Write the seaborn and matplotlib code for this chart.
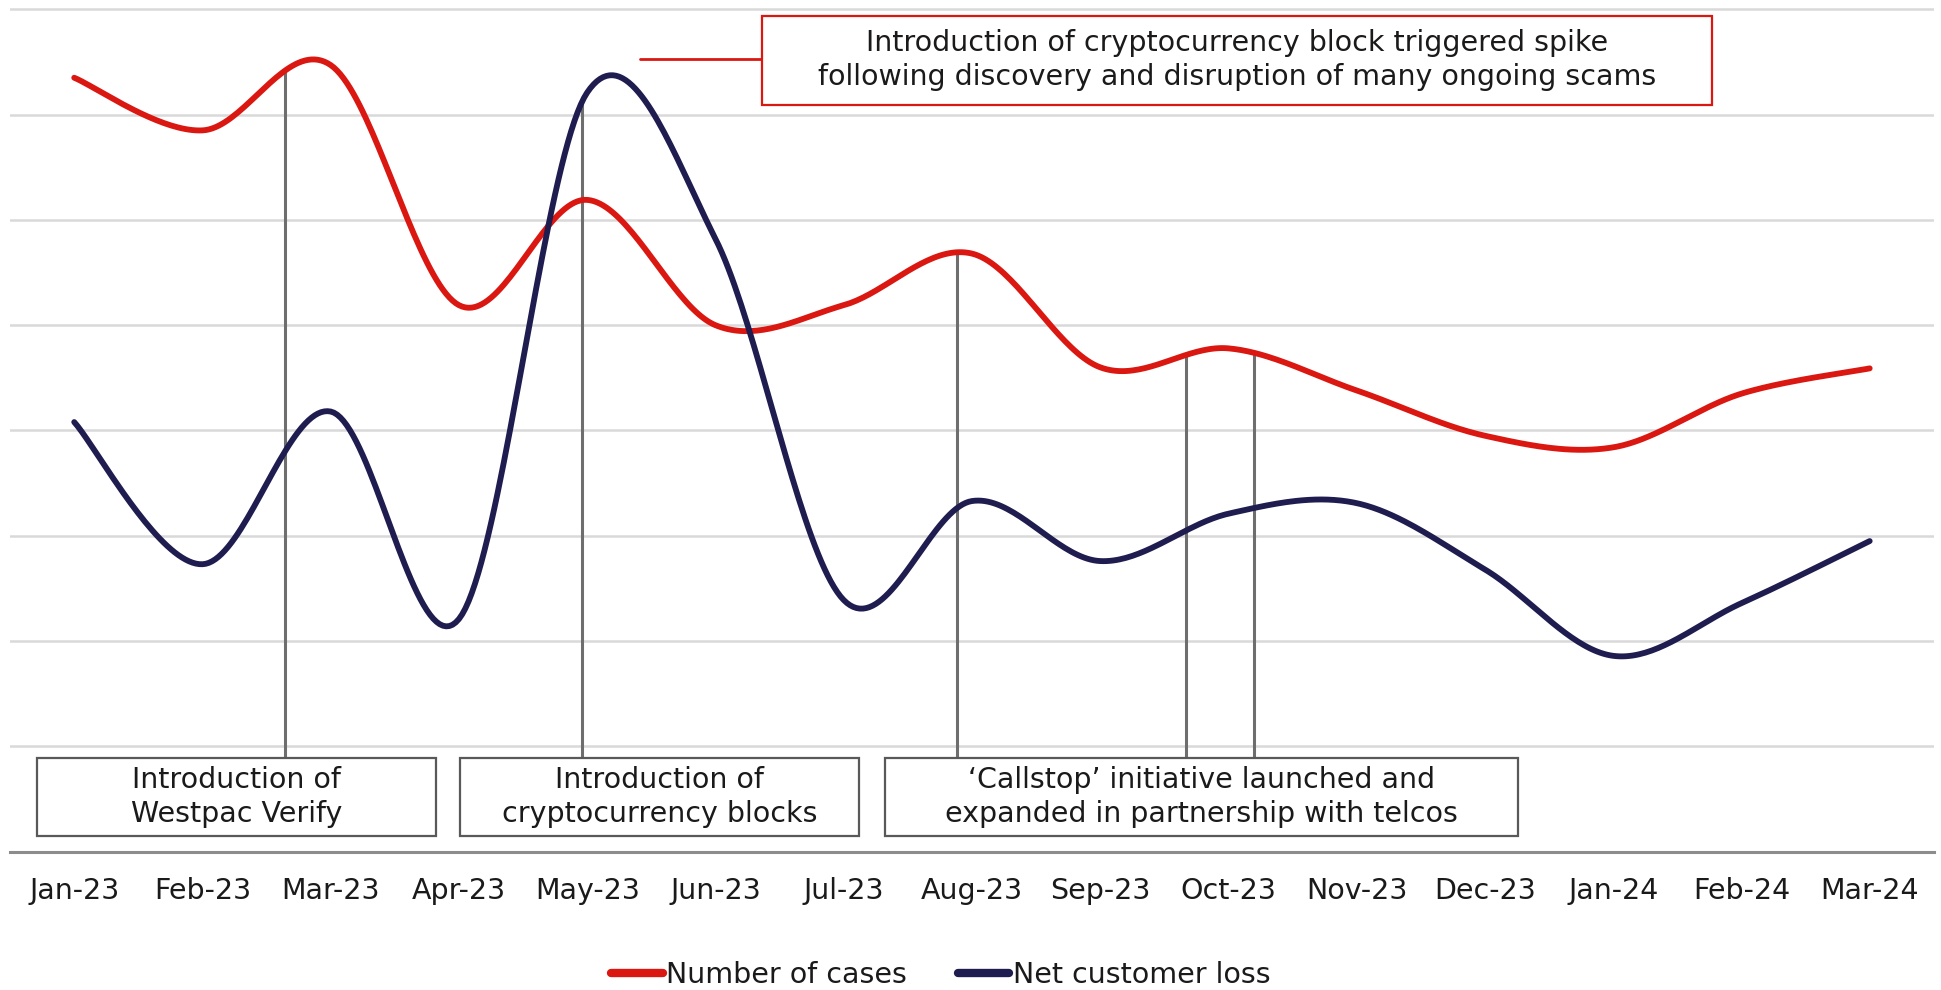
import numpy as np
import pandas as pd
import matplotlib
matplotlib.use("Agg")
import matplotlib.pyplot as plt
from matplotlib.patches import Rectangle
from matplotlib.lines import Line2D
import seaborn as sns

# ---- data -------------------------------------------------------------
months = ["Jan-23", "Feb-23", "Mar-23", "Apr-23", "May-23", "Jun-23", "Jul-23",
          "Aug-23", "Sep-23", "Oct-23", "Nov-23", "Dec-23", "Jan-24", "Feb-24", "Mar-24"]
cases = [7.35, 6.85, 7.47, 5.19, 6.19, 5.00, 5.19, 5.68, 4.60, 4.78, 4.38, 3.95, 3.84, 4.35, 4.59]
net_loss = [4.08, 2.73, 4.18, 2.21, 7.21, 5.82, 2.39, 3.33, 2.76, 3.21, 3.31, 2.68, 1.86, 2.36, 2.95]

series_names = ["Number of cases", "Net customer loss"]
series_colors = ["#DA1710", "#1F1C4F"]

# event markers: (x position in month units, series the marker rises to)
event_x = [1.64, 3.96, 6.88, 8.67, 9.20]
event_series = [0, 1, 0, 0, 0]
event_boxes = [
    ("Introduction of\nWestpac Verify", -0.29, 2.82),
    ("Introduction of\ncryptocurrency blocks", 3.01, 6.12),
    ("\u2018Callstop\u2019 initiative launched and\nexpanded in partnership with telcos", 6.32, 11.26),
]
spike_note = ("Introduction of cryptocurrency block triggered spike\n"
              "following discovery and disruption of many ongoing scams")

# ---- style ------------------------------------------------------------
sns.set_theme(style="white")
plt.rcParams["font.family"] = ["DejaVu Sans"]
TEXT = "#1a1a1a"
GRID = "#d9d9d9"
EVENT_GREY = "#6e6e6e"


def smooth(values, steps=40):
    """Catmull-Rom (Bezier-style) smoothing through every monthly point."""
    p = np.column_stack([np.arange(len(values), dtype=float), np.asarray(values, float)])
    ext = np.vstack([p[0], p, p[-1]])
    out = []
    for i in range(len(p) - 1):
        p0, p1, p2, p3 = ext[i], ext[i + 1], ext[i + 2], ext[i + 3]
        c1 = p1 + (p2 - p0) / 6.0
        c2 = p2 - (p3 - p1) / 6.0
        t = np.linspace(0, 1, steps, endpoint=(i == len(p) - 2))[:, None]
        seg = ((1 - t) ** 3) * p1 + 3 * ((1 - t) ** 2) * t * c1 + 3 * (1 - t) * t ** 2 * c2 + t ** 3 * p2
        out.append(seg)
    return np.vstack(out)


frames = []
curves = []
for name, vals in zip(series_names, [cases, net_loss]):
    c = smooth(vals)
    curves.append(c)
    frames.append(pd.DataFrame({"x": c[:, 0], "y": c[:, 1], "series": name}))
df = pd.concat(frames, ignore_index=True)

fig = plt.figure(figsize=(19.41, 9.90), dpi=100)
ax = fig.add_axes([0.0052, 0.1397, 0.9911, 0.8573])

ax.set_xlim(-0.5, len(months) - 0.5)
ax.set_ylim(0, 8.06)
for g in range(1, 9):
    ax.axhline(g, color=GRID, lw=1.8, zorder=0)

# event marker lines rising to the curve they annotate
for xe, si in zip(event_x, event_series):
    c = curves[si]
    ytop = np.interp(xe, c[:, 0], c[:, 1])
    ax.plot([xe, xe], [0.88, ytop], color=EVENT_GREY, lw=2.2, zorder=2, solid_capstyle="butt")

sns.lineplot(data=df, x="x", y="y", hue="series", palette=dict(zip(series_names, series_colors)),
             sort=False, estimator=None, lw=4.2, ax=ax, legend=False, zorder=3)
for line in ax.lines[-2:]:
    line.set_solid_capstyle("round")

# event boxes along the bottom
for label, x0, x1 in event_boxes:
    ax.add_patch(Rectangle((x0, 0.153), x1 - x0, 0.741, facecolor="white",
                           edgecolor="#595959", lw=1.6, zorder=4))
    ax.text((x0 + x1) / 2, 0.52, label, ha="center", va="center", fontsize=20.5,
            color=TEXT, linespacing=1.3, zorder=5)

# callout for the May spike
ax.plot([4.41, 5.36], [7.53, 7.53], color=series_colors[0], lw=2.0, zorder=4)
ax.add_patch(Rectangle((5.36, 7.094), 12.77 - 5.36, 7.94 - 7.094, facecolor="white",
                       edgecolor=series_colors[0], lw=1.6, zorder=4))
ax.text((5.36 + 12.77) / 2, 7.52, spike_note, ha="center", va="center", fontsize=20.5,
        color=TEXT, linespacing=1.3, zorder=5)

ax.set_xticks(range(len(months)))
ax.set_xticklabels(months, fontsize=20.5, color=TEXT)
ax.tick_params(axis="x", length=0, pad=18)
ax.set_yticks([])
ax.set_xlabel("")
ax.set_ylabel("")
for s in ["left", "right", "top"]:
    ax.spines[s].set_visible(False)
ax.spines["bottom"].set_color("#8c8c8c")
ax.spines["bottom"].set_linewidth(2.2)

handles = [Line2D([0], [0], color=c, lw=6, solid_capstyle="round") for c in series_colors]
fig.legend(handles, series_names, loc="center", bbox_to_anchor=(0.4847, 0.0155), ncol=2,
           frameon=False, fontsize=20.5, handlelength=1.8, handletextpad=0.12,
           columnspacing=1.8, labelcolor=TEXT, borderpad=0.2)

fig.savefig("out.png", dpi=100, facecolor="white")
